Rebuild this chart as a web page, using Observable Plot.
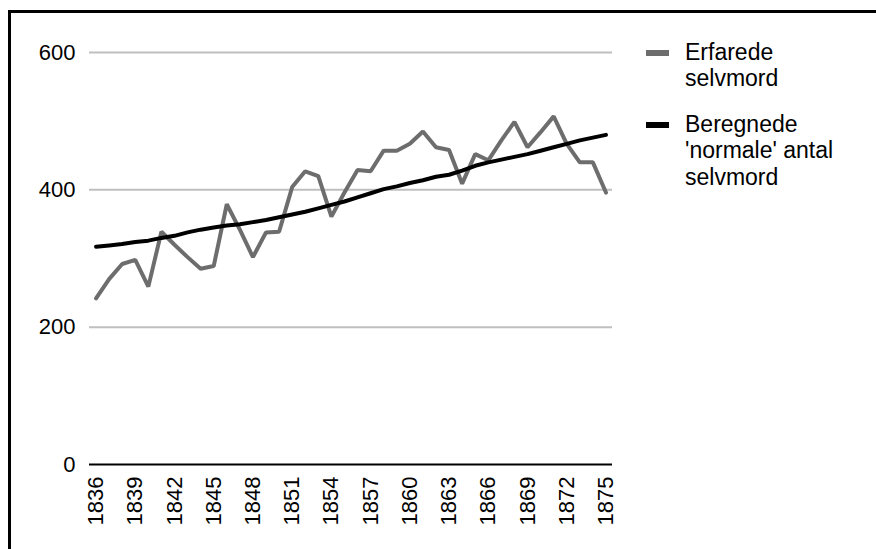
<!DOCTYPE html>
<html>
<head>
<meta charset="utf-8">
<script src="https://cdn.jsdelivr.net/npm/d3@7"></script>
<script src="https://cdn.jsdelivr.net/npm/@observablehq/plot@0.6"></script>
<style>
  html, body { margin: 0; padding: 0; background: #fff; overflow: hidden; }
  #wrap { position: relative; width: 876px; height: 549px; font-family: "Liberation Sans", Arial, sans-serif; }
  #frame { position: absolute; left: 8px; top: 10px; width: 900px; height: 600px; border-top: 3px solid #000; border-left: 3px solid #000; pointer-events: none; }
  #chart { position: absolute; left: 0; top: 0; }
  .sw { position: absolute; left: 646px; width: 23px; height: 6px; }
  .lt { position: absolute; left: 685px; font-size: 23px; line-height: 26.5px; color: #000; white-space: nowrap; }
</style>
</head>
<body>
<div id="wrap">
  <div id="chart"></div>
  <div id="frame"></div>
</div>
<script>
const years = [1836,1837,1838,1839,1840,1841,1842,1843,1844,1845,1846,1847,1848,1849,1850,1851,1852,1853,1854,1855,1856,1857,1858,1859,1860,1861,1862,1863,1864,1865,1866,1867,1868,1869,1870,1871,1872,1873,1874,1875];
const observed = [242,270,292,298,259,339,320,302,285,289,379,342,302,338,339,404,427,420,361,396,429,427,457,457,467,485,462,458,409,452,443,472,499,462,484,507,467,440,440,396];
const expected = [317,319,321,324,326,330,333,338,342,345,348,350,353,356,360,364,368,373,378,383,389,395,401,405,410,414,419,422,428,435,440,444,448,452,457,462,467,472,476,480];
const xTicks = [1836,1839,1842,1845,1848,1851,1854,1857,1860,1863,1866,1869,1872,1875];
const yTicks = [0,200,400,600];
const gridTicks = [200,400,600];
const seriesNames = ["Erfarede\nselvmord", "Beregnede\n'normale' antal\nselvmord"];
const seriesColors = ["#6d6d6d", "#000000"];

const rows = years.map((year, i) => ({year, observed: observed[i], expected: expected[i]}));

const chart = Plot.plot({
  width: 876,
  height: 549,
  marginLeft: 89,
  marginRight: 264,
  marginTop: 52,
  marginBottom: 85,
  style: {fontFamily: "'Liberation Sans', Arial, sans-serif", fontSize: "22px", background: "transparent", color: "#000"},
  x: {type: "linear", domain: [1835.5, 1875.5], label: null},
  y: {domain: [0, 600], label: null},
  marks: [
    Plot.ruleY(gridTicks, {stroke: "#bfbfbf", strokeWidth: 2}),
    Plot.ruleY([0], {stroke: "#000", strokeWidth: 2}),
    Plot.axisY({ticks: yTicks, tickSize: 0, tickPadding: 14, label: null, fontSize: 22, tickFormat: d => String(d)}),
    Plot.axisX({ticks: xTicks, tickSize: 0, tickPadding: 12, tickRotate: -90, label: null, fontSize: 22, tickFormat: d => String(d)}),
    Plot.line(rows, {x: "year", y: "observed", stroke: seriesColors[0], strokeWidth: 4, strokeLinejoin: "miter"}),
    Plot.line(rows, {x: "year", y: "expected", stroke: seriesColors[1], strokeWidth: 4, strokeLinejoin: "round"})
  ]
});
document.getElementById("chart").appendChild(chart);

// legend
const wrap = document.getElementById("wrap");
const legendTops = [38.8, 110.5];
const swatchTops = [50, 122];
seriesNames.forEach((name, i) => {
  const sw = document.createElement("div");
  sw.className = "sw";
  sw.style.top = swatchTops[i] + "px";
  sw.style.background = seriesColors[i];
  wrap.appendChild(sw);
  const t = document.createElement("div");
  t.className = "lt";
  t.style.top = legendTops[i] + "px";
  t.innerHTML = name.split("\n").join("<br>");
  wrap.appendChild(t);
});
</script>
</body>
</html>
